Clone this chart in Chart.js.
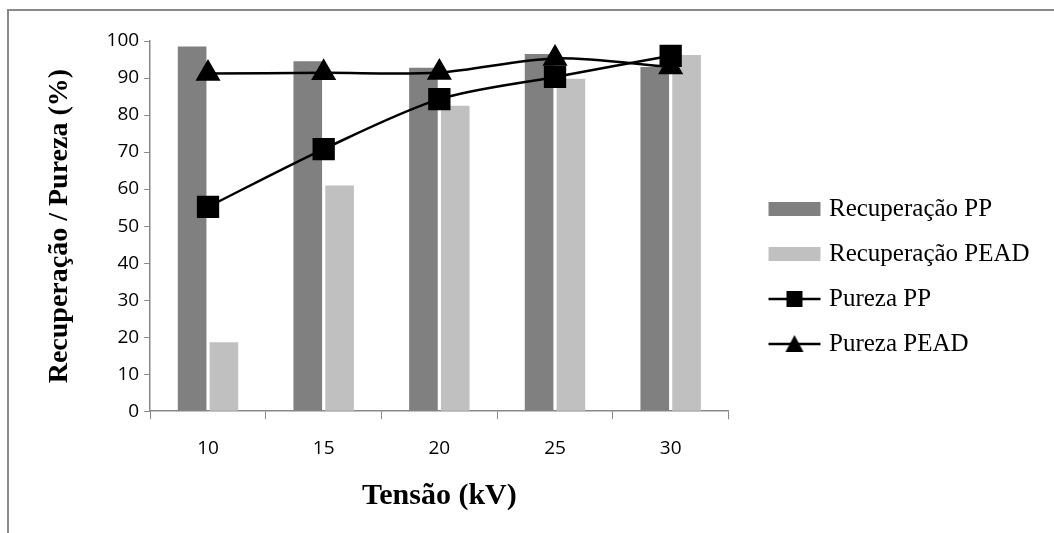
<!DOCTYPE html>
<html>
<head>
<meta charset="utf-8">
<script src="https://cdn.jsdelivr.net/npm/chart.js@4/dist/chart.umd.min.js"></script>
<style>
  html, body { margin: 0; padding: 0; background: #fff; }
  #wrap { position: relative; width: 1054px; height: 533px; }
  #frame { position: absolute; left: 7px; top: 9px; right: -4px; bottom: -4px; border: 2px solid #898989; }
  canvas { position: absolute; left: 0; top: 0; }
</style>
</head>
<body>
<div id="wrap">
  <div id="frame"></div>
  <canvas id="grafico" width="1054" height="533"></canvas>
</div>
<script>
const tensoes = ["10", "15", "20", "25", "30"];
const recuperacaoPP = [98.5, 94.5, 92.8, 96.5, 93.0];
const recuperacaoPEAD = [18.6, 61.0, 82.5, 89.8, 96.2];
const purezaPP = [55.2, 70.8, 84.3, 90.3, 96.0];
const purezaPEAD = [91.2, 91.4, 91.5, 95.3, 93.0];

// legend keys drawn on small canvases (bar block / line + marker)
const chave = (tipo, cor) => {
  const c = document.createElement("canvas");
  c.width = 54; c.height = 18;
  const g = c.getContext("2d");
  if (tipo === "bar") {
    g.fillStyle = cor;
    g.fillRect(1, 2, 52, 14);
  } else {
    g.strokeStyle = "#000"; g.lineWidth = 2.5;
    g.beginPath(); g.moveTo(1, 9); g.lineTo(53, 9); g.stroke();
    g.fillStyle = "#000";
    if (tipo === "rect") {
      g.fillRect(19, 1, 16, 16);
    } else {
      g.beginPath(); g.moveTo(27, 0); g.lineTo(36, 17); g.lineTo(18, 17); g.closePath(); g.fill();
    }
  }
  return c;
};

// push the legend a little to the right (Excel keeps a wider gap)
const moverLegenda = {
  id: "moverLegenda",
  afterLayout(chart) {
    const lg = chart.legend;
    lg.left += 24;
    lg.right = chart.width - 4;
    lg.top -= 2; lg.bottom -= 2;
  }
};

const ctx = document.getElementById("grafico");
const grafico = new Chart(ctx, {
  type: "bar",
  data: {
    labels: tensoes,
    datasets: [
      {
        label: "Recuperação PP", data: recuperacaoPP, order: 3,
        backgroundColor: "#808080", barPercentage: 0.9, categoryPercentage: 0.55,
        legendKey: chave("bar", "#808080")
      },
      {
        label: "Recuperação PEAD", data: recuperacaoPEAD, order: 4,
        backgroundColor: "#c0c0c0", barPercentage: 0.9, categoryPercentage: 0.55,
        legendKey: chave("bar", "#c0c0c0")
      },
      {
        type: "line", label: "Pureza PP", data: purezaPP, order: 1,
        borderColor: "#000", borderWidth: 2.5, tension: 0.3,
        pointStyle: "rect", pointRadius: 14, pointBackgroundColor: "#000", pointBorderColor: "#000",
        legendKey: chave("rect")
      },
      {
        type: "line", label: "Pureza PEAD", data: purezaPEAD, order: 0,
        borderColor: "#000", borderWidth: 2.5, tension: 0.3,
        pointStyle: "triangle", pointRadius: 12, pointBackgroundColor: "#000", pointBorderColor: "#000",
        legendKey: chave("tri")
      }
    ]
  },
  options: {
    responsive: false,
    animation: false,
    layout: { padding: { left: 40, right: 96, top: 41, bottom: 17 } },
    plugins: {
      tooltip: { enabled: false },
      legend: {
        position: "right",
        labels: {
          usePointStyle: true,
          pointStyleWidth: 44,
          boxHeight: 25,
          color: "#000",
          padding: 20,
          font: { family: "Liberation Serif", size: 25 },
          generateLabels: (chart) => chart.data.datasets.map((ds, i) => ({
            text: ds.label,
            datasetIndex: i,
            pointStyle: ds.legendKey,
            fontColor: "#000",
            hidden: false
          }))
        }
      }
    },
    scales: {
      x: {
        grid: { offset: true, drawOnChartArea: false, drawTicks: true, tickLength: 8, color: "#888" },
        border: { color: "#888", width: 1.5 },
        ticks: { color: "#000", font: { family: "Open Sans", size: 19 }, padding: 18 },
        title: { display: true, text: "Tensão (kV)", color: "#000", font: { family: "Liberation Serif", size: 30, weight: "bold" }, padding: { top: 0, bottom: 2 } }
      },
      y: {
        min: 0, max: 100,
        grid: { drawOnChartArea: false, drawTicks: true, tickLength: 6, color: "#888" },
        border: { color: "#888", width: 1.5 },
        ticks: { stepSize: 10, color: "#000", font: { family: "Open Sans", size: 19 }, padding: 5 },
        title: { display: true, text: "Recuperação / Pureza (%)", color: "#000", font: { family: "Liberation Serif", size: 28, weight: "bold" }, padding: { top: 3, bottom: 25 } }
      }
    }
  },
  plugins: [moverLegenda]
});
</script>
</body>
</html>
